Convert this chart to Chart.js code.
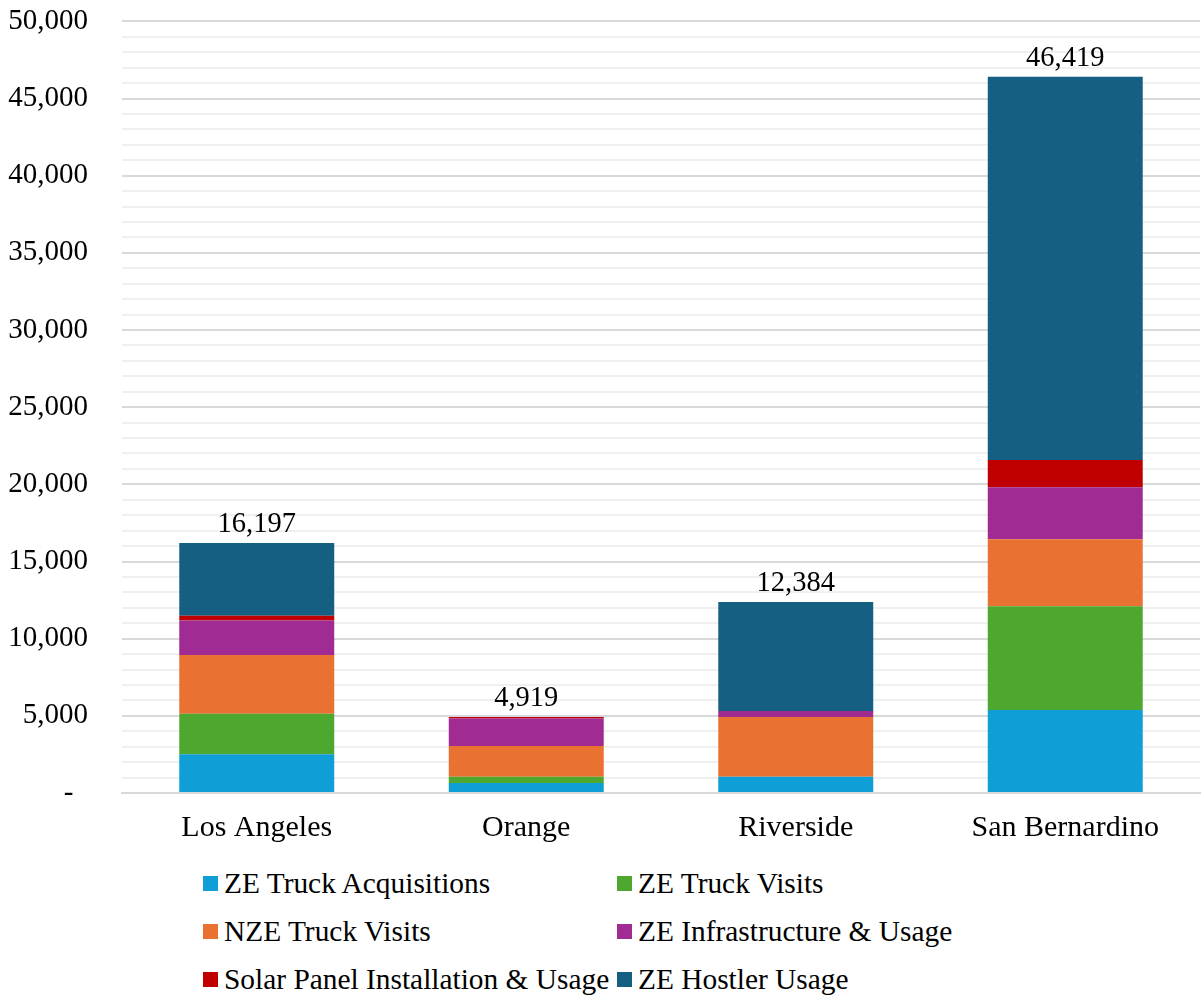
<!DOCTYPE html>
<html>
<head>
<meta charset="utf-8">
<script src="https://cdn.jsdelivr.net/npm/chart.js@4"></script>
<style>
  body { margin: 0; background: #fff; overflow: hidden; }
  #wrap { position: absolute; left: 0; top: -30px; width: 1203px; height: 897px; }
  #legend {
    position: absolute; left: 203px; top: 867px;
    display: grid; grid-template-columns: 414px 400px; row-gap: 15px;
    font-family: "Liberation Serif", "Times New Roman", serif; font-size: 29.4px; color: #000;
  }
  .item { display: flex; align-items: center; height: 33px; white-space: nowrap; }
  .box { width: 15px; height: 15px; margin-right: 6px; }
</style>
</head>
<body>
<div id="wrap"><canvas id="chart"></canvas></div>
<div id="legend"></div>
<script>
const counties = ['Los Angeles', 'Orange', 'Riverside', 'San Bernardino'];
const seriesNames = ['ZE Truck Acquisitions', 'ZE Truck Visits', 'NZE Truck Visits',
  'ZE Infrastructure & Usage', 'Solar Panel Installation & Usage', 'ZE Hostler Usage'];
const zeAcquisitions = [2510, 650, 1060, 5380];
const zeVisits = [2630, 410, 0, 6720];
const nzeVisits = [3800, 1980, 3860, 4340];
const zeInfra = [2230, 1790, 390, 3370];
const solar = [320, 89, 0, 1770];
const hostler = [4707, 0, 7074, 24839];
const totals = [16197, 4919, 12384, 46419];
const colors = ['#0F9ED5', '#4EA72E', '#E97132', '#A02B93', '#C00000', '#156082'];

const font = "'Liberation Serif', 'Times New Roman', serif";
const seriesData = [zeAcquisitions, zeVisits, nzeVisits, zeInfra, solar, hostler];

const totalLabels = {
  id: 'totalLabels',
  afterDatasetsDraw(chart) {
    const ctx = chart.ctx;
    const y = chart.scales.y;
    const x = chart.scales.x;
    ctx.save();
    ctx.font = '28.5px ' + font;
    ctx.fillStyle = '#000';
    ctx.textAlign = 'center';
    ctx.textBaseline = 'bottom';
    totals.forEach(function (t, i) {
      ctx.fillText(t.toLocaleString('en-US'), x.getPixelForValue(i), y.getPixelForValue(t) - 4);
    });
    ctx.restore();
  }
};

const chart = new Chart(document.getElementById('chart'), {
  type: 'bar',
  data: {
    labels: counties,
    datasets: seriesNames.map(function (name, i) {
      return {
        label: name,
        data: seriesData[i],
        backgroundColor: colors[i],
        borderWidth: 0,
        categoryPercentage: 1,
        barPercentage: 0.575
      };
    })
  },
  options: {
    responsive: true,
    maintainAspectRatio: false,
    animation: false,
    layout: { padding: { top: 20, left: 8, right: 3, bottom: 4 } },
    plugins: { legend: { display: false }, tooltip: { enabled: false } },
    scales: {
      x: {
        stacked: true,
        grid: { display: false, drawTicks: false },
        border: { color: '#d9d9d9', width: 2 },
        ticks: { color: '#000', font: { family: font, size: 30 }, padding: 17 }
      },
      y: {
        stacked: true,
        min: 0,
        max: 50000,
        border: { display: false },
        afterFit: function (scale) { scale.width = 114; },
        grid: {
          drawTicks: false,
          color: function (c) { return c.tick && c.tick.value % 5000 === 0 ? '#d9d9d9' : '#f0f0f0'; },
          lineWidth: 2
        },
        ticks: {
          stepSize: 1000,
          autoSkip: false,
          padding: 34,
          color: '#000',
          font: { family: font, size: 29 },
          callback: function (v) {
            if (v === 0) return '-  ';
            return v % 5000 === 0 ? v.toLocaleString('en-US') : '';
          }
        }
      }
    }
  },
  plugins: [totalLabels]
});

const legend = document.getElementById('legend');
chart.data.datasets.forEach(function (ds) {
  const item = document.createElement('div');
  item.className = 'item';
  const box = document.createElement('span');
  box.className = 'box';
  box.style.background = ds.backgroundColor;
  const txt = document.createElement('span');
  txt.textContent = ds.label;
  item.appendChild(box);
  item.appendChild(txt);
  legend.appendChild(item);
});
</script>
</body>
</html>
